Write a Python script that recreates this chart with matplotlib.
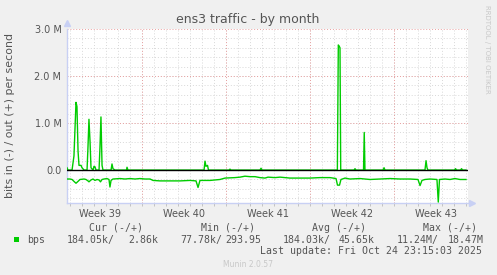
"""
ens3 traffic - by month (munin style)
"""
import numpy as np
from matplotlib import pyplot as plt

# time axis in days from left edge of the graph, values in Mbit/s
out_days = [0.00, 0.08, 0.42, 0.58, 0.75, 0.83, 0.92, 1.00, 1.17, 1.25, 1.42, 1.67,
            1.75, 1.83, 1.92, 2.00, 2.17, 2.25, 2.33, 2.42, 2.67, 2.75, 2.83, 2.92,
            3.00, 3.67, 3.75, 3.83, 4.00, 4.96, 5.00, 5.08, 11.42, 11.50, 11.58,
            11.71, 11.79, 11.92, 13.50, 13.58, 13.67, 16.08, 16.17, 16.25, 22.53,
            22.61, 22.67, 22.75, 22.81, 23.92, 24.00, 24.08, 24.71, 24.77, 24.83,
            26.33, 26.42, 26.50, 29.83, 29.92, 30.00, 30.08, 32.29, 32.38, 32.46,
            32.79, 32.88, 32.96, 33.25]
out_vals = [0.05, 0.0, 0.0, 0.30, 1.44, 1.35, 0.40, 0.10, 0.10, 0.05, 0.0, 0.0,
            0.50, 1.08, 0.60, 0.05, 0.0, 0.08, 0.07, 0.0, 0.0, 0.50, 1.13, 0.10,
            0.0, 0.0, 0.13, 0.03, 0.0, 0.0, 0.06, 0.0, 0.0, 0.19, 0.08,
            0.10, 0.0, 0.0, 0.0, 0.02, 0.0, 0.0, 0.04, 0.0, 0.0,
            2.66, 2.64, 2.60, 0.0, 0.0, 0.03, 0.0, 0.0, 0.80, 0.0,
            0.0, 0.05, 0.0, 0.0, 0.20, 0.05, 0.0, 0.0, 0.03, 0.0,
            0.0, 0.03, 0.0, 0.0]

in_days = [0.00, 0.25, 0.42, 0.58, 0.75, 0.92, 1.08, 1.42, 1.58, 1.75, 1.83, 2.00,
           2.17, 2.33, 2.50, 2.67, 2.79, 2.92, 3.08, 3.33, 3.50, 3.58, 3.67, 3.83,
           4.42, 4.83, 5.25, 5.67, 6.08, 6.50, 6.92, 7.17, 7.75, 8.58, 9.42, 10.25,
           10.75, 10.92, 11.08, 11.92, 12.75, 13.17, 14.00, 14.42, 14.83, 15.25,
           15.67, 16.08, 16.50, 16.75, 17.33, 17.75, 18.58, 19.42, 20.25, 21.08,
           21.92, 22.42, 22.54, 22.71, 22.83, 23.17, 23.58, 24.42, 25.25, 26.08,
           26.92, 27.75, 28.58, 29.25, 29.42, 29.58, 29.83, 30.25, 30.83, 30.94,
           31.04, 31.50, 31.92, 32.33, 32.75, 33.25]
in_vals = [-0.19, -0.19, -0.20, -0.24, -0.28, -0.24, -0.20, -0.19, -0.20, -0.23, -0.25, -0.21,
           -0.19, -0.22, -0.20, -0.21, -0.25, -0.20, -0.19, -0.18, -0.20, -0.36, -0.22, -0.19,
           -0.18, -0.19, -0.18, -0.19, -0.18, -0.19, -0.19, -0.22, -0.23, -0.23, -0.23, -0.22,
           -0.23, -0.37, -0.22, -0.22, -0.20, -0.17, -0.16, -0.15, -0.13, -0.14,
           -0.14, -0.16, -0.17, -0.15, -0.16, -0.15, -0.17, -0.17, -0.17, -0.16,
           -0.16, -0.18, -0.32, -0.32, -0.20, -0.17, -0.19, -0.18, -0.20, -0.19,
           -0.18, -0.19, -0.19, -0.20, -0.33, -0.22, -0.20, -0.19, -0.20, -0.68,
           -0.20, -0.19, -0.20, -0.18, -0.20, -0.20]

week_starts = [6.25, 13.25, 20.25, 27.25]
week_labels = ["Week 39", "Week 40", "Week 41", "Week 42", "Week 43"]
week_mids = [2.75, 9.75, 16.75, 23.75, 30.75]
y_ticks = [0, 1, 2, 3]
y_labels = ["0.0", "1.0 M", "2.0 M", "3.0 M"]

legend_head = ["Cur (-/+)", "Min (-/+)", "Avg (-/+)", "Max (-/+)"]
legend_vals = ["184.05k/", "2.86k", "77.78k/", "293.95", "184.03k/", "45.65k",
               "11.24M/", "18.47M"]

W, H = 497, 275
BG = "#f0f0f0"
GREEN = "#00cc00"
TXT = "#555555"
AXC = "#c8d0f4"


def fx(px):
    return px / W


def fy(py):
    return 1 - py / H


fig = plt.figure(figsize=(W / 100, H / 100), dpi=100, facecolor=BG)
ax = fig.add_axes([fx(67), fy(203), 401 / W, 174 / H])
ax.set_facecolor("white")
xmax = 401 / 12
ax.set_xlim(0, xmax)
ax.set_ylim(-0.70, 3.0)

# minor grid: every day / every 0.2 M
days = np.arange(0.25, xmax, 1.0)
ax.vlines(days, -0.70, 3.0, colors="#d8d8d8", linestyles=(0, (1, 2)), linewidth=0.7, zorder=1)
ys = np.arange(-0.6, 3.0, 0.2)
ax.hlines(ys, 0, xmax, colors="#d8d8d8", linestyles=(0, (1, 2)), linewidth=0.7, zorder=1)
# major grid
ax.vlines(week_starts, -0.70, 3.0, colors="#e8a0a0", linestyles=(0, (1, 2)), linewidth=0.7, zorder=1)
ax.hlines([1, 2, 3], 0, xmax, colors="#e8a0a0", linestyles=(0, (1, 2)), linewidth=0.7, zorder=1)

ax.plot(in_days, in_vals, color=GREEN, linewidth=1.0, zorder=3)
ax.plot(out_days, out_vals, color=GREEN, linewidth=1.0, zorder=3)
ax.axhline(0, color="black", linewidth=1.0, zorder=4)

ax.set_xticks(week_mids, week_labels)
ax.set_yticks(y_ticks, y_labels)
ax.tick_params(axis="both", length=0, labelsize=7, labelcolor=TXT, pad=4)
ax.set_xticks(days, minor=True)
ax.tick_params(axis="x", which="minor", length=2, color="#bbbbbb", direction="out")
for s in ["top", "right"]:
    ax.spines[s].set_visible(False)
for s in ["left", "bottom"]:
    ax.spines[s].set_color(AXC)
    ax.spines[s].set_linewidth(1.0)
ax.plot([0], [1.035], marker="^", color=AXC, markersize=4, transform=ax.transAxes, clip_on=False)
ax.plot([1.01], [0], marker=">", color=AXC, markersize=4, transform=ax.transAxes, clip_on=False)

fig.text(fx(248), fy(19), "ens3 traffic - by month", ha="center", va="center", fontsize=9, color=TXT)
fig.text(fx(10), fy(115), "bits in (-) / out (+) per second", rotation=90, ha="center", va="center",
         fontsize=7.9, color=TXT)
fig.text(fx(487), fy(5), "RRDTOOL / TOBI OETIKER", rotation=270, ha="center", va="top",
         fontsize=5, color="#c8c8c8")

mono = dict(family="DejaVu Sans Mono", fontsize=7.1, color=TXT, va="center", ha="left")
for x, t in zip([89, 201, 312, 423], legend_head):
    fig.text(fx(x), fy(227.7), t, **mono)
fig.patches.append(plt.Rectangle((fx(14), fy(242)), 5 / W, 5 / H, transform=fig.transFigure,
                                 facecolor=GREEN, edgecolor="none"))
fig.text(fx(27), fy(239.7), "bps", **mono)
for x, t in zip([67, 128, 180, 225, 283, 339, 397, 448], legend_vals):
    fig.text(fx(x), fy(239.7), t, **mono)
fig.text(fx(482), fy(251), "Last update: Fri Oct 24 23:15:03 2025", family="DejaVu Sans Mono",
         fontsize=7.1, color=TXT, va="center", ha="right")
fig.text(fx(248), fy(264.3), "Munin 2.0.57", ha="center", va="center", fontsize=5.5, color="#c8c8c8")

fig.savefig("out.png", dpi=100, facecolor=BG)
